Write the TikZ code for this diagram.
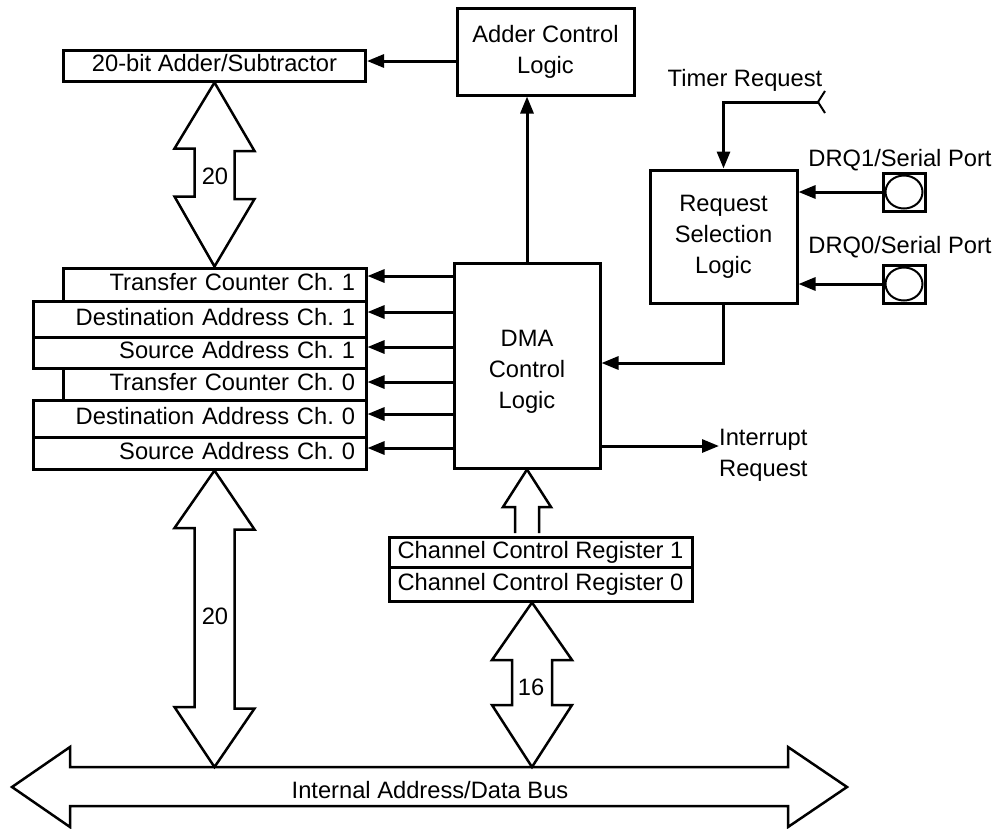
\documentclass[tikz,border=0pt]{standalone}
\usepackage{fontspec}
\setmainfont{Liberation Sans}
\usetikzlibrary{arrows.meta,calc,shapes.geometric}
\begin{document}
\frenchspacing
\begin{tikzpicture}[x=1pt,y=-1pt,
  every node/.style={font=\fontsize{23.7pt}{31pt}\selectfont\frenchspacing, inner sep=0pt},
  box/.style={draw, line width=3pt, align=center},
  reg/.style={draw, line width=3pt, align=right, inner xsep=11pt, text height=17pt, text depth=4.5pt},
  ctr/.style={draw, line width=3pt, align=center, text height=17pt, text depth=4.5pt},
  arr/.style={line width=3pt, -{Triangle[length=17pt,width=13pt]}},
  bus/.style={line width=2.5pt, line join=miter},
  port/.style={draw, line width=3pt, minimum width=42pt, minimum height=38pt},
  hole/.style={draw, ellipse, line width=2pt, minimum width=37pt, minimum height=33pt}]

\useasboundingbox (0,0) rectangle (1002,828);

% boxes
\node[ctr, minimum width=302pt, minimum height=31pt] (sub) at (214.5,65.5) {20-bit Adder/Subtractor};
\node[box, minimum width=177pt, minimum height=87pt] (acl) at (545.5,51.5) {Adder Control\\Logic};
\node[box, minimum width=147pt, minimum height=133pt] (rsl) at (723.5,236.5) {Request\\Selection\\Logic};
\node[box, minimum width=146pt, minimum height=205pt] (dma) at (527,365.5) {};
\node[align=center] (dmat) at (527,372) {DMA\\Control\\Logic};

% registers
\node[reg, text width=281pt, minimum height=33pt] (tc1) at (214.5,284.5) {Transfer Counter Ch. 1};
\node[reg, text width=311pt, minimum height=36pt] (da1) at (199.5,319) {Destination Address Ch. 1};
\node[reg, text width=311pt, minimum height=31pt] (sa1) at (199.5,352.5) {Source Address Ch. 1};
\node[reg, text width=281pt, minimum height=32pt] (tc0) at (214.5,384) {Transfer Counter Ch. 0};
\node[reg, text width=311pt, minimum height=37pt] (da0) at (199.5,418.5) {Destination Address Ch. 0};
\node[reg, text width=311pt, minimum height=32pt] (sa0) at (199.5,453) {Source Address Ch. 0};

% channel control registers
\node[ctr, minimum width=303pt, minimum height=30pt] (ccr1) at (540.5,552) {Channel Control Register 1};
\node[ctr, minimum width=303pt, minimum height=34pt] (ccr0) at (540.5,584) {Channel Control Register 0};

% ports
\node[port] (dq1) at (904,192) {};
\node[hole] (h1) at (dq1.center) {};
\node[port] (dq0) at (904,284) {};
\node[hole] (h0) at (dq0.center) {};
\node (l1) at (900,160) {DRQ1/Serial Port};
\node (l0) at (900,247) {DRQ0/Serial Port};

% timer request
\node (tim) at (745,80) {Timer Request};
\coordinate (tr) at (818,102);
\draw[arr] (tr) -| (rsl.north);
\draw[line width=2pt] (tr) -- ++(7,-11) (tr) -- ++(7,11);

% connectors
\draw[arr] (acl.west |- {0,61}) -- (sub.east |- {0,61});
\draw[arr] (dma.north) -- (dma.north |- acl.south);
\draw[arr] (dq1.west) -- (rsl.east |- dq1.west);
\draw[arr] (dq0.west) -- (rsl.east |- dq0.west);
\draw[arr] (rsl.south) |- (dma.east |- {0,363});
\foreach \r/\y in {tc1/276, da1/312, sa1/347, tc0/382, da0/414, sa0/448}
  \draw[arr] (dma.west |- {0,\y}) -- (\r.east |- {0,\y});

\node[anchor=west, align=left] (intr) at (719,455) {Interrupt\\Request};
\draw[arr] (dma.east |- {0,446}) -- (intr.west |- {0,446});

% internal bus
\draw[bus] (12,787) -- (70,747) -- (70,767) -- (788,767) -- (788,747) -- (847,787)
  -- (788,827) -- (788,806) -- (70,806) -- (70,827) -- cycle;
\node (bus) at (430,790) {Internal Address/Data Bus};

% 20-bit bus (adder <-> registers)
\draw[bus] (sub.south) -- ++(40,68.5) -- ++(-20,0) -- ++(0,48) -- ++(20,0) -- (tc1.north)
  -- ++(-40,-70) -- ++(20,0) -- ++(0,-48) -- ++(-20,0) -- cycle;
\node (w1) at (215,176) {20};

% 20-bit bus (registers <-> internal bus)
\draw[bus] (tc0.south |- sa0.south) -- ++(40,59) -- ++(-20,0) -- ++(0,179) -- ++(20,0)
  -- (214.5,767) -- ++(-40,-60) -- ++(20,0) -- ++(0,-179) -- ++(-20,0) -- cycle;
\node (w2) at (215,616) {20};

% 16-bit bus (ccr <-> internal bus)
\draw[bus] (532,602.5) -- ++(40,57.5) -- ++(-20,0) -- ++(0,45) -- ++(20,0)
  -- (532,767) -- ++(-40,-62) -- ++(20,0) -- ++(0,-45) -- ++(-20,0) -- cycle;
\node (w3) at (531,687) {16};

% ccr -> dma
\draw[bus] (515,533) -- (515,507) -- (503,507) -- (dma.south) -- (551,507) -- (539,507) -- (539,533);

\end{tikzpicture}
\end{document}
